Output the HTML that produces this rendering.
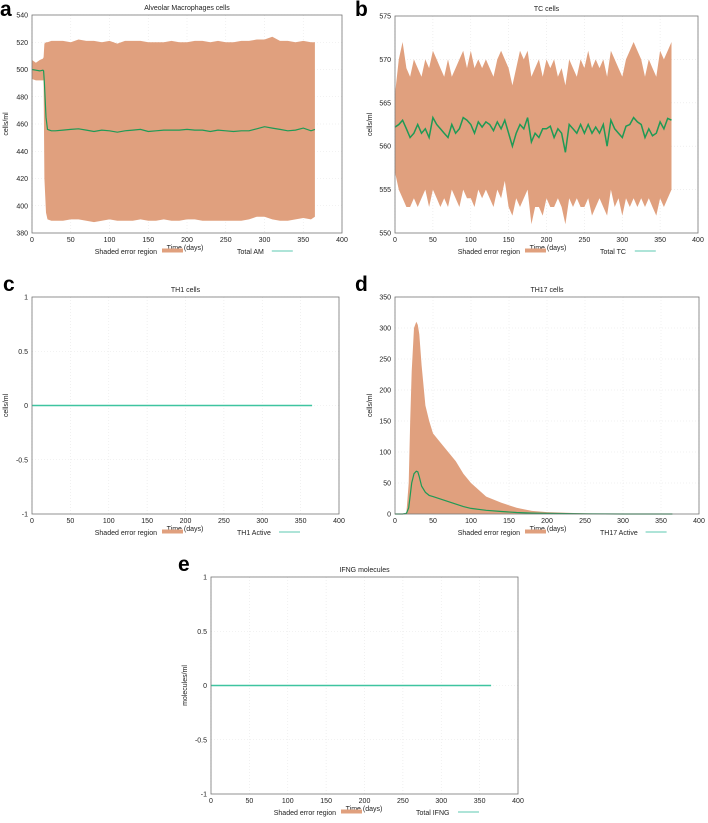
<!DOCTYPE html>
<html><head><meta charset="utf-8">
<style>
html,body{margin:0;padding:0;background:#fff;}
svg{display:block;font-family:"Liberation Sans",sans-serif;}
</style></head>
<body>
<svg id="fig" width="708" height="823" viewBox="0 0 708 823"></svg>
<script>
// ---- Panel a data: Alveolar Macrophages ----
const aTime  = [0,5,10,14,15,16,18,20,25,30,40,50,60,70,80,90,100,110,120,130,140,150,160,170,180,190,200,210,220,230,240,250,260,270,280,290,300,310,320,330,340,350,360,365];
const aMean  = [500,499.5,499,499.5,499,490,465,456,455,455,455.5,456,456.5,455.5,454.5,455.5,455,454,455,455.5,456,454.5,455,455.5,455.5,455.5,456,455.5,455.5,454.5,455.5,455,454.5,455,455,456.5,458,457,456,455,455.5,457,455,456];
const aUpper = [507,505,507,508,509,519,520,520,521,521,521,520,522,521,521,520,521,519,521,521,521,520,520,520,521,520,520,521,521,520,521,520,520,521,521,522,522,524,521,521,520,521,520,520];
const aLower = [493,492,492,492,492,420,395,390,389,389,389,390,390,389,388,389,390,389,389,389,390,389,389,390,389,389,390,390,389,389,389,389,389,389,390,392,392,390,389,389,390,391,390,392];
// ---- Panel b data: TC cells ----
const bTime = [0,5,10,15,20,25,30,35,40,45,50,55,60,65,70,75,80,85,90,95,100,105,110,115,120,125,130,135,140,145,150,155,160,165,170,175,180,185,190,195,200,205,210,215,220,225,230,235,240,245,250,255,260,265,270,275,280,285,290,295,300,305,310,315,320,325,330,335,340,345,350,355,360,365];
const bMean = [562.2,562.5,563,562,561,561.5,562.5,561.5,562,561,563.3,562.5,562,561.5,561,562.5,561.5,562,563.3,563,562.5,561.5,562.8,562.2,562.8,562.5,561.8,562.8,562,563,561.5,560,561.5,562.5,562,563.3,560.5,561.5,561,562,562,562.3,561,562,561.5,559.3,562.5,562,561.5,562.5,561.5,562.5,561.5,562.2,561.5,562.5,560,563,562,561.5,561,562.3,562.5,563.3,562.8,562.5,561,562,561.2,561.5,562.8,562,563.2,563];
const bUpper = [566,570,572,569,568,570,569,568,570,569,571,570,569,568,570,568,569,570,571,569,571,569,570,569,570,569,568,570,571,570,569,567,569,571,570,571,568,569,570,568,570,569,570,568,569,567,570,569,568,570,569,571,569,570,569,570,568,571,570,569,568,570,571,572,571,570,568,570,569,568,571,570,571,572];
const bLower = [557,555,554,553,553,554,553,554,555,553,555,554,553,554,553,555,554,553,555,554,554,553,555,554,555,554,553,555,554,556,553,552,554,553,554,555,551,553,553,552,554,553,553,554,553,551,554,553,554,553,553,554,552,553,554,553,552,555,553,554,552,554,553,554,553,554,553,554,553,552,554,553,554,555];
// ---- Panel c data: TH1 ----
const cTime = [0,365];
const cMean = [0,0];
// ---- Panel d data: TH17 ----
const dTime  = [0,10,15,18,20,22,25,28,30,32,35,40,45,50,60,70,80,90,100,120,140,160,180,200,250,300,365];
const dUpper = [0,0,2,50,150,230,300,310,305,290,240,175,150,130,115,100,85,65,50,28,18,10,5,3,1,0,0];
const dMean  = [0,0,1,10,30,50,65,69,68,60,45,35,30,28,24,20,16,12,9,6,4,2.5,1.5,1,0.3,0,0];
const dLower = [0,0,0,0,0,0,0,0,0,0,0,0,0,0,0,0,0,0,0,0,0,0,0,0,0,0,0];
// ---- Panel e data: IFNG ----
const eTime = [0,365];
const eMean = [0,0];
// ---- ticks ----
const xTicks = [0,50,100,150,200,250,300,350,400];
const aYTicks = [380,400,420,440,460,480,500,520,540];
const bYTicks = [550,555,560,565,570,575];
const unitYTicks = [-1,-0.5,0,0.5,1];
const dYTicks = [0,50,100,150,200,250,300,350];

const NS="http://www.w3.org/2000/svg";
const svg=document.getElementById('fig');
function mk(tag,attrs,parent){const e=document.createElementNS(NS,tag);for(const k in attrs)e.setAttribute(k,attrs[k]);(parent||svg).appendChild(e);return e;}
function txt(s,attrs,parent){const e=mk('text',attrs,parent);e.textContent=s;return e;}

function panel(o){
  const g=mk('g',{});
  
  
  const x0=o.x,y0=o.y,w=o.w,h=o.h;
  const xs=v=>x0+(v-0)/400*w;
  const ys=v=>y0+h-(v-o.ymin)/(o.ymax-o.ymin)*h;
  xTicks.forEach(t=>{
    const l=mk('line',{x1:xs(t),x2:xs(t),y1:y0,y2:y0+h,stroke:'#e6e6e6','stroke-width':0.6,'stroke-dasharray':'1,2'},g);
    
    const tl=txt(String(t),{x:xs(t),y:y0+h+9,'font-size':7,'text-anchor':'middle',fill:'#222'},g);
    
  });
  o.yt.forEach(t=>{
    const l=mk('line',{x1:x0,x2:x0+w,y1:ys(t),y2:ys(t),stroke:'#e6e6e6','stroke-width':0.6,'stroke-dasharray':'1,2'},g);
    
    const tl=txt(String(t),{x:x0-4,y:ys(t)+2.5,'font-size':7,'text-anchor':'end',fill:'#222'},g);
    
  });
  if(o.up){
    let d='';
    o.t.forEach((t,i)=>{d+=(i?'L':'M')+xs(t).toFixed(1)+','+ys(o.up[i]).toFixed(1);});
    for(let i=o.t.length-1;i>=0;i--)d+='L'+xs(o.t[i]).toFixed(1)+','+ys(o.lo[i]).toFixed(1);
    const p=mk('path',{d:d+'Z',fill:'#e0a07e',stroke:'none'},g);
    
  }
  let d='';
  o.t.forEach((t,i)=>{d+=(i?'L':'M')+xs(t).toFixed(1)+','+ys(o.m[i]).toFixed(1);});
  const ln=mk('path',{d:d,fill:'none',stroke:o.lc,'stroke-width':o.lw||1.2},g);
  
  const fr=mk('rect',{x:x0,y:y0,width:w,height:h,fill:'none',stroke:'#777','stroke-width':0.8},g);
  
  const ti=txt(o.title,{x:x0+w/2,y:y0-5,'font-size':7,'text-anchor':'middle',fill:'#222'},g);
  
  const yt=txt(o.ylab,{x:0,y:0,'font-size':7,'text-anchor':'middle',fill:'#222',transform:`translate(${o.ylx},${y0+h/2}) rotate(-90)`},g);
  
  const xt=txt('Time (days)',{x:x0+153,y:y0+h+17,'font-size':7,'text-anchor':'middle',fill:'#222'},g);
  
  const l1=txt('Shaded error region',{x:x0+125,y:y0+h+21,'font-size':7,'text-anchor':'end',fill:'#222'},g);
  
  const sw=mk('rect',{x:x0+130,y:y0+h+15.5,width:21,height:4,fill:'#e0a07e'},g);
  
  const l2=txt(o.series,{x:x0+205,y:y0+h+21,'font-size':7,fill:'#222'},g);
  
  const sl=mk('line',{x1:x0+205+o.series.length*3.6+6,x2:x0+205+o.series.length*3.6+27,y1:y0+h+18,y2:y0+h+18,stroke:'#5cc8b0','stroke-width':1},g);
  
  const L=txt(o.letter,{x:o.lx,y:o.ly,'font-size':21,'font-weight':'bold',fill:'#000'},g);
  
}
panel({letter:'a',x:32,y:15,w:310,h:218,ymin:380,ymax:540,yt:aYTicks,t:aTime,m:aMean,up:aUpper,lo:aLower,lc:'#1f9a55',title:'Alveolar Macrophages cells',ylab:'cells/ml',ylx:8,series:'Total AM',lx:0,ly:16});
panel({letter:'b',x:395,y:16,w:303,h:217,ymin:550,ymax:575,yt:bYTicks,t:bTime,m:bMean,up:bUpper,lo:bLower,lc:'#1f9a55',lw:1.5,title:'TC cells',ylab:'cells/ml',ylx:372,series:'Total TC',lx:355,ly:16});
panel({letter:'c',x:32,y:297,w:307,h:217,ymin:-1,ymax:1,yt:unitYTicks,t:cTime,m:cMean,lc:'#3fc4a0',lw:1.4,title:'TH1 cells',ylab:'cells/ml',ylx:8,series:'TH1 Active',lx:3,ly:291});
panel({letter:'d',x:395,y:297,w:304,h:217,ymin:0,ymax:350,yt:dYTicks,t:dTime,m:dMean,up:dUpper,lo:dLower,lc:'#1f9a55',title:'TH17 cells',ylab:'cells/ml',ylx:372,series:'TH17 Active',lx:355,ly:291});
panel({letter:'e',x:211,y:577,w:307,h:217,ymin:-1,ymax:1,yt:unitYTicks,t:eTime,m:eMean,lc:'#3fc4a0',lw:1.4,title:'IFNG molecules',ylab:'molecules/ml',ylx:187,series:'Total IFNG',lx:178,ly:571});
</script>
</body></html>
